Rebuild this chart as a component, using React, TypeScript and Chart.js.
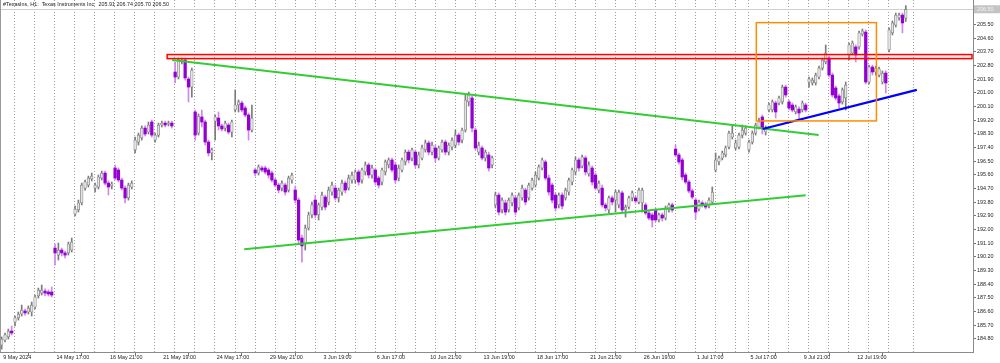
import React, { useEffect, useRef } from 'react';
import { Chart, registerables } from 'chart.js';
Chart.register(...registerables);

// ---- Data (hourly bars, index 0 = 9 May 2024 19:00) ----
const opens = [
184.40,184.73,184.93,185.32,185.91,186.18,186.44,186.64,186.57,186.57,
186.90,187.63,187.82,187.95,187.89,187.89,190.78,190.32,190.65,190.46,
190.46,190.65,193.02,193.29,193.75,194.73,194.93,195.33,194.73,194.80,
195.39,195.72,195.06,194.87,196.05,195.92,195.26,194.73,194.08,194.80,
197.24,197.76,198.03,198.68,198.42,199.08,197.89,198.22,198.88,199.01,
198.95,199.01,202.37,202.04,203.03,203.16,201.91,201.38,199.74,198.35,
199.41,199.08,197.76,197.04,199.14,199.34,198.82,198.68,198.88,198.42,
199.87,200.20,200.33,200.00,199.54,198.55,195.92,195.72,196.05,196.05,
195.92,195.72,195.26,194.93,194.73,194.93,194.60,195.26,194.60,193.94,
191.44,191.05,192.10,192.96,193.94,192.96,193.48,194.14,193.81,194.47,
194.73,194.08,194.47,195.06,194.73,195.26,195.26,195.79,195.26,195.79,
196.25,195.59,195.92,195.39,195.13,195.79,196.25,196.58,196.25,195.39,
195.92,196.45,197.10,196.71,197.10,196.25,196.71,197.24,197.70,197.10,
197.37,196.71,197.24,197.76,197.10,197.43,197.56,198.22,197.89,198.55,
200.40,200.66,198.55,197.10,197.37,196.71,196.91,196.25,193.62,194.27,
193.29,193.75,193.29,193.75,194.08,193.42,194.08,194.60,194.08,194.73,
194.93,195.39,196.05,196.45,195.39,194.93,194.27,193.62,194.27,194.08,
194.47,195.13,195.79,196.58,196.18,196.71,195.66,196.05,195.59,194.60,
194.73,193.62,193.29,194.08,193.94,193.62,194.41,193.29,193.48,194.08,
194.08,193.81,193.75,193.62,193.09,192.96,193.29,192.63,192.96,192.76,
193.29,193.62,197.30,196.91,196.58,195.59,195.13,194.54,193.94,193.35,
193.75,193.68,193.55,193.81,195.92,196.45,196.71,196.91,197.43,198.09,
197.37,197.43,198.22,198.35,197.24,197.76,198.35,198.75,199.41,198.42,
199.87,199.87,200.33,200.33,200.40,201.38,200.40,200.20,199.74,199.93,
199.87,200.20,201.71,201.65,201.65,202.04,202.63,203.03,203.29,202.17,
201.32,200.79,200.40,200.66,203.49,203.62,204.02,204.02,204.87,205.00,
201.71,202.70,202.37,202.17,201.71,202.30,203.82,204.94,205.46,205.93,
206.12,205.91
];
const highs = [
184.93,185.19,185.45,185.65,186.31,186.57,187.03,186.77,186.97,187.23,
187.69,188.15,188.35,188.09,188.02,188.22,191.05,191.11,190.78,190.59,
191.18,191.44,193.55,193.94,195.06,195.26,195.52,195.72,195.06,195.59,
195.85,195.85,195.20,195.13,196.25,196.05,195.39,194.87,195.06,195.20,
198.09,198.35,198.82,198.82,199.08,199.21,198.35,199.01,199.14,199.14,
199.14,199.14,203.03,203.29,203.29,203.29,202.04,202.63,199.87,199.61,
199.87,199.21,197.89,197.37,199.54,199.74,198.95,199.14,199.01,199.21,
201.19,200.53,200.46,200.13,199.67,200.20,196.05,196.25,196.18,196.18,
196.05,195.85,195.39,195.06,195.20,195.06,195.52,195.72,194.87,194.08,
191.64,192.30,193.15,193.81,194.27,193.75,194.47,194.27,194.80,195.13,
194.93,194.73,195.26,195.20,195.59,195.79,195.92,195.92,196.05,196.45,
196.38,196.25,196.05,195.52,196.05,196.58,196.71,196.71,196.45,196.25,
196.71,197.24,197.24,197.37,197.24,197.10,197.56,197.89,197.83,197.76,
197.56,197.50,197.89,197.89,197.70,198.03,198.55,198.35,198.68,200.86,
201.05,200.79,198.68,197.76,197.50,197.24,197.10,196.84,194.47,194.41,
194.08,193.94,194.08,194.41,194.27,194.41,194.93,194.73,195.06,195.39,
195.79,196.25,196.71,196.58,195.59,195.06,194.41,194.41,194.41,194.73,
195.39,196.05,196.78,196.71,196.91,196.84,196.45,196.18,195.72,195.20,
194.93,193.75,194.21,194.21,194.60,194.60,194.54,193.62,194.21,194.54,
194.21,194.73,194.73,193.75,193.22,193.09,193.42,193.09,193.09,193.55,
193.75,193.75,197.56,197.04,196.71,195.72,195.26,194.67,194.08,193.94,
193.88,193.81,194.08,194.80,197.04,196.84,197.17,197.50,198.49,198.88,
197.89,198.35,198.88,198.82,197.89,198.49,199.01,199.34,199.54,198.82,
200.33,200.53,200.46,200.79,201.51,201.51,200.53,200.33,200.20,200.07,
200.46,200.33,202.04,201.98,202.30,202.76,203.29,204.15,203.42,202.30,
201.45,200.92,201.32,201.71,204.28,204.41,204.15,205.07,205.20,205.14,
202.83,202.83,202.76,202.70,202.44,202.44,205.27,205.73,206.25,206.25,
206.25,206.74
];
const lows = [
184.13,184.60,184.79,185.06,185.65,186.04,186.31,186.37,186.44,186.31,
186.77,187.49,187.69,187.63,187.63,187.56,189.66,189.99,190.26,190.13,
190.32,190.52,192.89,193.15,193.62,194.60,194.80,195.20,194.47,194.67,
195.26,194.93,194.27,194.67,195.26,195.13,194.60,193.75,193.94,194.67,
197.04,197.56,197.89,198.16,198.29,198.09,197.76,198.09,198.75,198.75,
198.82,198.68,201.65,201.91,202.90,201.84,200.40,200.72,197.89,198.22,
198.75,197.56,196.84,196.58,197.89,198.55,198.49,198.49,198.29,198.09,
199.74,199.74,199.74,199.41,197.89,198.42,195.52,195.59,195.79,195.66,
195.39,195.13,194.80,194.41,194.54,194.27,194.47,195.06,193.75,191.11,
189.86,190.65,191.97,192.76,192.76,192.63,193.29,193.29,193.62,194.27,
193.94,193.81,194.27,194.41,194.60,195.06,195.06,194.93,195.06,195.59,
195.39,195.39,194.93,194.73,194.93,195.59,196.05,195.79,195.06,195.20,
195.79,196.25,196.38,196.51,196.05,196.05,196.58,197.10,196.91,196.91,
196.45,196.58,197.10,196.91,196.91,197.24,197.37,197.56,197.70,198.42,
200.13,198.42,197.24,196.91,196.58,196.51,195.85,196.05,193.42,192.96,
193.09,192.96,193.15,193.55,192.96,193.29,193.94,193.62,193.94,194.60,
194.80,195.26,195.92,195.26,194.27,193.75,193.22,193.42,193.35,193.94,
194.27,194.93,195.59,195.85,196.05,195.59,195.52,194.93,194.60,194.41,
193.48,193.22,193.09,193.62,193.15,193.42,193.09,192.82,193.35,193.88,
193.75,193.68,193.15,192.96,192.63,192.17,192.50,192.50,192.56,192.63,
193.15,193.15,196.78,196.31,195.26,195.00,194.41,194.01,192.69,193.22,
193.48,193.35,193.42,193.68,195.79,196.25,196.58,196.78,197.30,197.96,
197.24,197.30,198.03,198.22,197.10,197.63,198.22,198.62,198.29,198.22,
199.74,199.74,199.34,200.20,200.26,200.72,199.87,199.74,199.61,199.21,
199.74,199.74,201.38,201.51,201.51,201.91,202.50,202.90,202.04,200.72,
200.53,200.00,200.26,199.87,203.16,203.49,203.03,203.88,204.74,201.58,
201.58,202.17,202.17,202.04,201.58,200.99,203.69,204.81,205.33,205.79,
204.94,205.70
];
const closes = [
184.79,185.06,185.32,185.19,186.18,186.44,186.70,186.51,186.83,187.03,
187.56,188.02,188.02,187.82,187.76,187.69,190.46,190.65,190.46,190.32,
191.05,191.18,193.35,193.75,194.93,195.13,195.39,195.52,194.93,195.46,
195.72,195.06,194.80,195.00,195.39,195.26,194.73,194.08,194.93,195.06,
197.89,198.22,198.68,198.29,198.88,198.22,198.22,198.88,199.01,198.88,
199.01,198.82,202.04,203.16,203.16,201.98,201.38,202.50,198.22,199.47,
199.08,197.76,197.04,197.24,199.41,198.82,198.62,199.01,198.42,199.08,
200.20,200.40,199.87,199.54,198.55,199.34,195.72,196.12,195.92,195.79,
195.59,195.26,194.93,194.60,195.06,194.47,195.39,195.59,193.94,191.31,
190.92,192.10,192.96,193.62,192.96,193.62,194.27,193.48,194.60,194.93,
194.08,194.60,195.06,194.60,195.39,195.59,195.79,195.13,195.92,196.25,
195.59,196.05,195.13,194.93,195.92,196.45,196.58,195.92,195.26,196.05,
196.58,197.10,196.58,197.24,196.25,196.91,197.37,197.70,197.10,197.56,
196.71,197.37,197.76,197.10,197.56,197.89,198.22,197.76,198.55,200.53,
200.86,198.68,197.37,197.56,196.71,197.10,196.05,196.71,194.27,193.15,
193.94,193.15,193.94,194.27,193.15,194.27,194.73,193.81,194.93,195.26,
195.59,196.12,196.58,195.39,194.47,193.94,193.42,194.27,193.55,194.60,
195.26,195.92,196.58,196.05,196.78,195.79,196.25,195.13,194.73,195.06,
193.62,193.42,194.08,193.81,194.47,194.47,193.29,193.48,194.08,194.41,
193.88,194.60,194.60,193.09,192.76,192.63,192.63,192.96,192.76,193.42,
193.62,193.29,196.91,196.45,195.46,195.13,194.54,194.14,193.15,193.81,
193.62,193.48,193.94,194.47,196.58,196.71,197.04,197.37,198.35,198.35,
197.70,198.22,198.55,198.68,197.76,198.35,198.88,199.08,198.68,198.68,
200.20,200.40,199.74,200.66,201.38,200.86,200.00,199.87,200.07,199.67,
200.33,199.87,201.91,201.84,202.17,202.63,203.16,203.62,202.17,200.86,
200.66,200.33,201.19,201.51,204.15,204.28,203.49,204.94,205.07,201.71,
202.70,202.37,202.63,202.57,202.30,201.65,205.14,205.60,206.12,206.12,
205.60,206.50
];

// time-axis labels (bar index -> text)
const xTickIdx = [0,16,32,48,64,80,96,112,128,144,160,176,192,208,224,240,256];
const xTickText = ['9 May 2024','14 May 17:00','16 May 21:00','21 May 19:00','24 May 17:00','29 May 21:00','3 Jun 19:00','6 Jun 17:00','10 Jun 21:00','13 Jun 19:00','18 Jun 17:00','21 Jun 21:00','26 Jun 19:00','1 Jul 17:00','5 Jul 17:00','9 Jul 21:00','12 Jul 19:00'];
// day separators (bar index)
const dayStarts = [4,10,16,22,28,34,40,46,52,58,64,70,76,82,88,94,100,106,112,118,124,130,136,142,148,154,160,166,172,178,184,190,196,202,208,214,220,224,230,236,242,248,254,260,266,273.4];
// price-axis ticks
const yTicks = [184.8,185.7,186.6,187.5,188.4,189.3,190.2,191.1,192.0,192.9,193.8,194.7,195.6,196.5,197.4,198.3,199.2,200.1,201.0,201.9,202.8,203.7,204.6,205.5];
const priceMin = 183.94;
const priceMax = 207.11;
const barMin = -0.5;
const barMax = 291.15;
const bidPrice = 206.5;
const titleText = '#TexasIns, H1:  Texas Instruments Inc.  205.91 206.74 205.70 206.50';

// drawn objects (bar index, price)
const redZone = { x0: 49.6, top: 203.52, bottom: 203.25 };
const greenUpper = [[51.1, 203.16], [244.9, 198.23]];
const greenLower = [[72.7, 190.71], [241.0, 194.26]];
const blueLine = [[228.1, 198.62], [274.3, 201.19]];
const orangeBox = { x0: 226.2, x1: 262.2, top: 205.62, bottom: 199.15 };

const FONT = '"Liberation Sans", Arial, sans-serif';
const FS = 5.4;
const BULL_BODY = '#e4e4e4';
const BULL_EDGE = '#7c7c7c';
const BEAR_BODY = '#9400d3';
const BEAR_WICK = '#cf86ee';

const isBull = (i: number) => closes[i] >= opens[i];

const overlay = {
  id: 'overlay',
  beforeDatasetsDraw(chart: any) {
    const { ctx, chartArea: a, scales } = chart;
    const x = scales.x, y = scales.y;
    ctx.save();
    ctx.strokeStyle = '#9c9c9c';
    ctx.lineWidth = 1;
    ctx.setLineDash([1, 2]);
    for (const d of dayStarts) {
      const px = Math.round(x.getPixelForValue(d) - 0.7) + 0.5;
      ctx.beginPath();
      ctx.moveTo(px, a.top);
      ctx.lineTo(px, a.bottom);
      ctx.stroke();
    }
    ctx.setLineDash([]);
    const by = Math.round(y.getPixelForValue(bidPrice)) + 0.5;
    ctx.strokeStyle = '#cfcfcf';
    ctx.beginPath();
    ctx.moveTo(a.left, by);
    ctx.lineTo(a.right, by);
    ctx.stroke();
    ctx.restore();
  },
  afterDatasetsDraw(chart: any) {
    const { ctx, chartArea: a, scales } = chart;
    const x = scales.x, y = scales.y;
    ctx.save();
    // red zone
    const rx0 = x.getPixelForValue(redZone.x0);
    const rx1 = x.getPixelForValue(barMax) - 1;
    const ry0 = y.getPixelForValue(redZone.top);
    const ry1 = y.getPixelForValue(redZone.bottom);
    ctx.fillStyle = 'rgba(255,120,120,0.18)';
    ctx.fillRect(rx0, ry0, rx1 - rx0, ry1 - ry0);
    ctx.strokeStyle = '#ff0000';
    ctx.lineWidth = 1.5;
    ctx.strokeRect(rx0, ry0, rx1 - rx0, ry1 - ry0);
    // lines
    const seg = (p: number[][], color: string, w: number) => {
      ctx.strokeStyle = color;
      ctx.lineWidth = w;
      ctx.beginPath();
      ctx.moveTo(x.getPixelForValue(p[0][0]), y.getPixelForValue(p[0][1]));
      ctx.lineTo(x.getPixelForValue(p[1][0]), y.getPixelForValue(p[1][1]));
      ctx.stroke();
    };
    seg(greenUpper, '#32cd32', 2);
    seg(greenLower, '#32cd32', 2);
    seg(blueLine, '#0000ff', 2.2);
    // orange box
    const ox0 = x.getPixelForValue(orangeBox.x0);
    const ox1 = x.getPixelForValue(orangeBox.x1);
    const oy0 = y.getPixelForValue(orangeBox.top);
    const oy1 = y.getPixelForValue(orangeBox.bottom);
    ctx.strokeStyle = '#ff8c00';
    ctx.lineWidth = 1.5;
    ctx.strokeRect(ox0, oy0, ox1 - ox0, oy1 - oy0);
    // left frame
    ctx.strokeStyle = '#9a9a9a';
    ctx.lineWidth = 1;
    ctx.beginPath();
    ctx.moveTo(a.left + 0.5, a.top);
    ctx.lineTo(a.left + 0.5, a.bottom);
    ctx.stroke();
    // title
    ctx.fillStyle = '#222';
    ctx.font = `${FS}px ${FONT}`;
    ctx.textBaseline = 'middle';
    ctx.textAlign = 'left';
    ctx.fillText(titleText, 3, 5);
    // current price label on axis
    const py = y.getPixelForValue(bidPrice);
    ctx.fillStyle = '#c4c4c4';
    ctx.fillRect(a.right + 1, py - 4, 26, 8);
    ctx.fillStyle = '#f4f4f4';
    ctx.fillText(bidPrice.toFixed(2), a.right + 4, py);
    ctx.restore();
  },
};

export default function App() {
  const ref = useRef<HTMLCanvasElement | null>(null);
  useEffect(() => {
    document.body.style.margin = '0';
    const canvas = ref.current!;
    const wickData = opens.map((_, i) => ({ x: i, y: [lows[i], highs[i]] }));
    const bodyData = opens.map((o, i) => ({ x: i, y: [o, closes[i]] }));
    const chart = new Chart(canvas, {
      type: 'bar',
      data: {
        datasets: [
          {
            label: 'wick',
            data: wickData as any,
            backgroundColor: (c: any) => (isBull(c.dataIndex) ? BULL_EDGE : BEAR_WICK),
            borderWidth: 0,
            barThickness: 1,
            grouped: false,
            order: 2,
          },
          {
            label: 'body',
            data: bodyData as any,
            backgroundColor: (c: any) => (isBull(c.dataIndex) ? BULL_BODY : BEAR_BODY),
            borderColor: (c: any) => (isBull(c.dataIndex) ? BULL_EDGE : BEAR_BODY),
            borderWidth: (c: any) => (isBull(c.dataIndex) ? 0.7 : 0),
            borderSkipped: false,
            barThickness: 2.6,
            grouped: false,
            order: 1,
          },
        ],
      } as any,
      options: {
        animation: false,
        responsive: false,
        devicePixelRatio: 1,
        layout: { padding: 0 },
        plugins: { legend: { display: false }, tooltip: { enabled: false }, title: { display: false } },
        scales: {
          x: {
            type: 'linear',
            min: barMin,
            max: barMax,
            offset: false,
            afterBuildTicks: (s: any) => {
              s.ticks = xTickIdx.map((v) => ({ value: v }));
            },
            afterFit: (s: any) => {
              s.height = 11;
              s.paddingLeft = 0;
              s.paddingRight = 0;
            },
            ticks: {
              autoSkip: false,
              maxRotation: 0,
              minRotation: 0,
              align: 'start',
              padding: -2,
              labelOffset: 1.5,
              color: '#222',
              font: { family: FONT, size: FS },
              callback: (v: any) => {
                const k = xTickIdx.indexOf(Number(v));
                return k >= 0 ? xTickText[k] : '';
              },
            },
            grid: { drawOnChartArea: false, drawTicks: true, tickLength: 4, color: '#777' },
            border: { display: true, color: '#8a8a8a' },
          },
          y: {
            type: 'linear',
            position: 'right',
            min: priceMin,
            max: priceMax,
            afterBuildTicks: (s: any) => {
              s.ticks = yTicks.map((v) => ({ value: v }));
            },
            afterFit: (s: any) => {
              s.width = 27;
              s.paddingTop = 0;
              s.paddingBottom = 0;
            },
            ticks: {
              padding: 1,
              color: '#222',
              font: { family: FONT, size: FS },
              callback: (v: any) => Number(v).toFixed(2),
            },
            grid: { drawOnChartArea: false, drawTicks: true, tickLength: 3, color: '#777' },
            border: { display: true, color: '#8a8a8a' },
          },
        },
      } as any,
      plugins: [overlay],
    });
    return () => chart.destroy();
  }, []);
  return (
    <div style={{ width: 1000, height: 363, background: '#fff' }}>
      <canvas ref={ref} width={1000} height={363} style={{ display: 'block' }} />
    </div>
  );
}
